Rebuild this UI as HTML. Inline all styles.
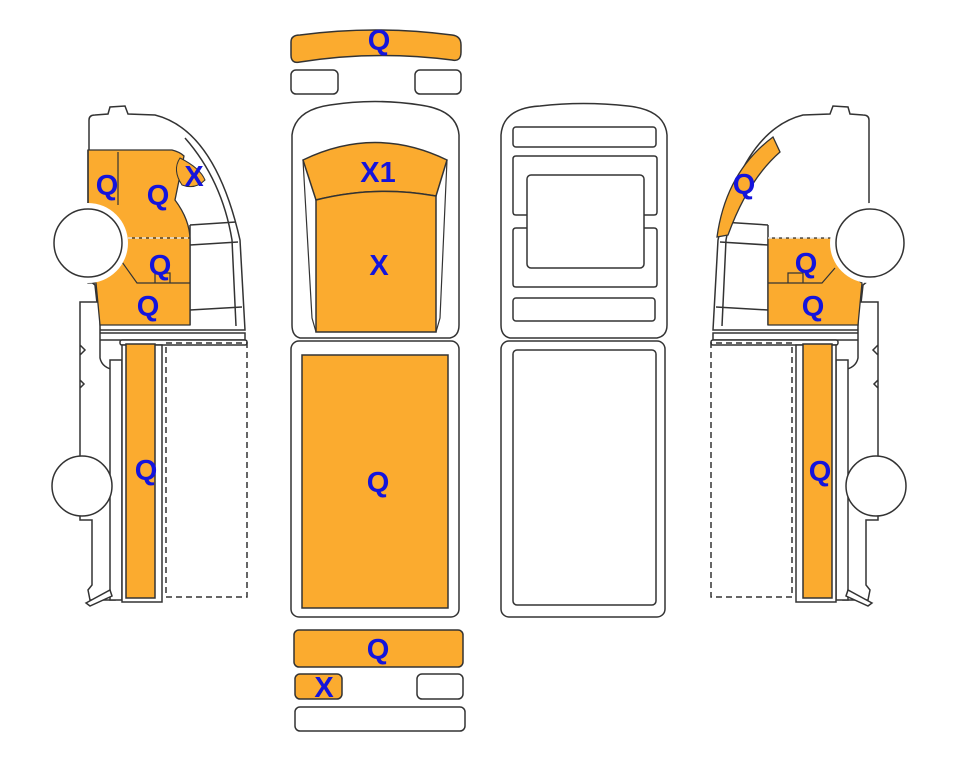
<!DOCTYPE html>
<html><head><meta charset="utf-8"><style>
html,body{margin:0;padding:0;background:#fff;}
svg{display:block;}
text{font-family:"Liberation Sans",sans-serif;font-weight:bold;fill:#1414dc;font-size:29px;text-anchor:middle;}
</style></head><body>
<svg width="963" height="768" viewBox="0 0 963 768" xmlns="http://www.w3.org/2000/svg">
<defs>
<g id="sidebase" fill="#fff" stroke="#333" stroke-width="1.5">
  <path d="M89,120 Q89,115 95,115 L108,114 L110,107 L125,106 L128,114 L155,115 Q215,130 240,240 L245,330 L100,330 L95,285 L89,280 Z"/>
  <path d="M185,138 Q222,180 232,240 L236,326" fill="none"/>
  <path d="M80,302 L100,302 L100,340 L245,340 L245,333 L100,333 L100,358 Q102,368 115,370 L115,600 L90,600 L88,590 L92,585 L92,520 L80,520 Z M80,302 L80,345 L85,350 L80,355 L80,380 L84,384 L80,388 L80,460"/>
  <rect x="120" y="340" width="127" height="5" rx="2"/>
  <path d="M110,360 L122,360 L122,600 L110,600 Z"/>
  <path d="M122,345 L162,345 L162,602 L122,602 Z"/>
  <path d="M86,603 L110,590 L112,596 L90,606 Z"/>
  <circle cx="82" cy="486" r="30"/>
  <path d="M190,225 L236,222 M190,245 L238,242 M190,310 L242,307 M190,225 L190,325" fill="none"/>
  <rect x="166" y="343" width="81" height="254" fill="none" stroke-dasharray="6,4"/>
</g>
<g id="wheel">
  <circle cx="88" cy="243" r="40" fill="#fff"/>
  <circle cx="88" cy="243" r="34" fill="#fff" stroke="#333" stroke-width="1.5"/>
</g>
</defs>

<!-- LEFT SIDE -->
<use href="#sidebase"/>
<path d="M88,150 L172,150 Q180,152 184,156 L175,200 Q190,220 190,240 L190,325 L100,325 L96,283 L88,283 Z" fill="#fbab2f" stroke="#333" stroke-width="1.3"/>
<path d="M118,152 L118,205 M128,238 L190,238 M122,262 L137,283 L190,283 M155,283 L155,273 L170,273 L170,283" fill="none" stroke="#333" stroke-width="1.2"/>
<path d="M128,238 L190,238" stroke="#fff" stroke-dasharray="4,3" stroke-width="1.2"/>
<path d="M180,158 Q200,168 205,180 Q195,190 182,185 Q172,170 180,158 Z" fill="#fbab2f" stroke="#333"/>
<use href="#wheel"/>
<path d="M88,203 L88,150" stroke="#333" stroke-width="1.5"/>
<rect x="126" y="344" width="29" height="254" fill="#fbab2f" stroke="#333" stroke-width="1.5"/>
<text x="107" y="195">Q</text><text x="158" y="205">Q</text><text x="194" y="186">X</text>
<text x="160" y="275">Q</text><text x="148" y="316">Q</text><text x="146" y="480">Q</text>

<!-- RIGHT SIDE (mirrored) -->
<use href="#sidebase" transform="translate(958,0) scale(-1,1)"/>
<path d="M768,238 L832,238 L838,240 Q832,262 862,283 L858,325 L768,325 Z" fill="#fbab2f" stroke="#333" stroke-width="1.3"/>
<path d="M768,283 L822,283 L835,268 M788,283 L788,273 L803,273 L803,283" fill="none" stroke="#333" stroke-width="1.2"/>
<path d="M768,238 L832,238" stroke="#fff" stroke-dasharray="4,3" stroke-width="1.2"/>
<path d="M717,237 Q726,172 773,137 L780,152 Q748,180 728,235 Z" fill="#fbab2f" stroke="#333" stroke-width="1.3"/>
<use href="#wheel" transform="translate(958,0) scale(-1,1)"/>
<rect x="803" y="344" width="29" height="254" fill="#fbab2f" stroke="#333" stroke-width="1.5"/>
<text x="744" y="194">Q</text><text x="806" y="273">Q</text><text x="813" y="316">Q</text><text x="820" y="481">Q</text>

<!-- CENTER TOP VIEW -->
<g stroke="#333" stroke-width="1.5">
<path d="M291,42 Q291,35 300,35 Q375,25 452,35 Q461,36 461,45 L461,52 Q461,62 452,60 Q375,50 300,62 Q291,64 291,55 Z" fill="#fbab2f"/>
<rect x="291" y="70" width="47" height="24" rx="5" fill="#fff"/>
<rect x="415" y="70" width="46" height="24" rx="5" fill="#fff"/>
<path d="M292,135 Q295,110 330,105 Q375,98 420,105 Q457,110 459,135 L459,325 Q459,336 450,338 L300,338 Q292,336 292,325 Z" fill="#fff"/>
<path d="M303,160 Q375,125 447,160 L436,196 Q375,185 316,200 Z" fill="#fbab2f"/>
<path d="M316,200 Q375,185 436,196 L436,332 L316,332 Z" fill="#fbab2f"/>
<path d="M303,160 L312,318 L316,332 M447,160 L440,318 L436,332" fill="none" stroke-width="1.2"/>
<rect x="291" y="341" width="168" height="276" rx="8" fill="#fff"/>
<rect x="302" y="355" width="146" height="253" fill="#fbab2f"/>
<rect x="294" y="630" width="169" height="37" rx="5" fill="#fbab2f"/>
<rect x="295" y="674" width="47" height="25" rx="5" fill="#fbab2f"/>
<rect x="417" y="674" width="46" height="25" rx="5" fill="#fff"/>
<rect x="295" y="707" width="170" height="24" rx="5" fill="#fff"/>
</g>
<text x="379" y="50">Q</text><text x="378" y="182">X1</text><text x="379" y="275">X</text>
<text x="378" y="492">Q</text><text x="378" y="659">Q</text><text x="324" y="697">X</text>

<!-- ROOF / UNDER VIEW -->
<g stroke="#333" stroke-width="1.5" fill="#fff">
<path d="M501,135 Q503,108 540,106 Q583,101 628,106 Q665,110 667,135 L667,325 Q667,336 657,338 L510,338 Q501,336 501,325 Z"/>
<rect x="513" y="127" width="143" height="20" rx="3"/>
<path d="M516,156 L654,156 Q657,156 657,159 L657,212 Q657,215 654,215 L644,215 M527,215 L516,215 Q513,215 513,212 L513,159 Q513,156 516,156" fill="none"/>
<path d="M516,228 L527,228 M644,228 L654,228 Q657,228 657,231 L657,284 Q657,287 654,287 L516,287 Q513,287 513,284 L513,231 Q513,228 516,228" fill="none"/>
<rect x="527" y="175" width="117" height="93" rx="4"/>
<rect x="513" y="298" width="142" height="23" rx="3"/>
<rect x="501" y="341" width="164" height="276" rx="8"/>
<rect x="513" y="350" width="143" height="255" rx="4"/>
</g>
</svg>
</body></html>
